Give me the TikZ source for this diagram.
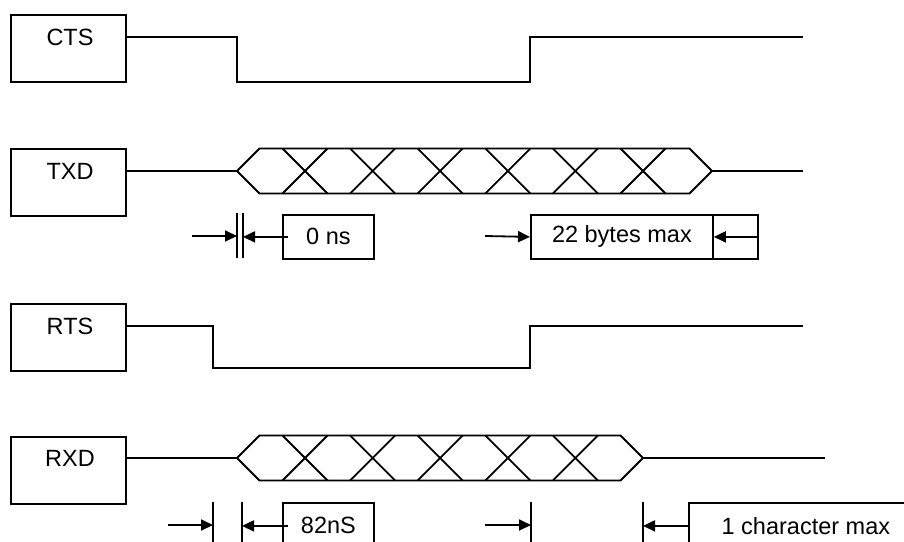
\documentclass[tikz,border=0pt]{standalone}
\usepackage{fontspec}
\setmainfont{Liberation Sans}
\usetikzlibrary{arrows.meta,calc}
\begin{document}
\begin{tikzpicture}[x=1pt,y=-1pt,
  line width=1.8pt,
  sig/.style={line width=1.8pt,line join=miter},
  sigbox/.style={draw,line width=1.8pt,minimum width=115pt,minimum height=67pt,inner sep=0pt,anchor=north west},
  sigtext/.style={font=\fontsize{23.5}{28}\selectfont,inner sep=0pt,anchor=center},
  annbox/.style={draw,line width=1.8pt,minimum height=44pt,inner sep=0pt,anchor=north west,font=\fontsize{23.5}{28}\selectfont},
  arr/.style={-{Triangle[length=12pt,width=11pt]},line width=1.8pt,shorten >=0pt},
  tick/.style={line width=1.8pt}
]
\clip (0,0) rectangle (904,541);
\fill[white] (0,0) rectangle (904,541);

% ---------- CTS ----------
\node[sigbox] (cts) at (10,14) {};
\node[sigtext] (ctsT) at (70,37) {CTS};
\coordinate (ctsEnd) at (803,37);
\draw[sig] ($(cts.north east)+(0,23)$) -- (237,37) -- (237,82) -- (530,82) -- (530,37) -- (ctsEnd);

% ---------- TXD ----------
\node[sigbox] (txd) at (10,148) {};
\node[sigtext] (txdT) at (70,171) {TXD};
\coordinate (txdL) at (237,171);
\coordinate (txdR) at (712,171);
\coordinate (txdEnd) at (803,171);
\draw[sig] ($(txd.north east)+(0,23)$) -- (txdL);
\draw[sig] (txdL) -- (259.5,148.5) -- (689.5,148.5) -- (txdR) -- (689.5,193.5) -- (259.5,193.5) -- cycle;
\foreach \k in {0,...,5}{
  \pgfmathsetmacro{\cx}{305+67.6*\k}
  \draw[sig] (\cx-22.5,148.5) -- (\cx+22.5,193.5);
  \draw[sig] (\cx-22.5,193.5) -- (\cx+22.5,148.5);
}
\draw[sig] (txdR) -- (txdEnd);

% 0 ns annotation
\node[annbox,minimum width=91pt] (zero) at (282,214) {0 ns};
\coordinate (zA) at (237,213);
\coordinate (zB) at (243,213);
\draw[tick] (zA) -- (237,258);
\draw[tick] (zB) -- (243,258);
\coordinate (zS) at (192,236);
\draw[arr] (zS) -- (zS -| zA);
\draw[arr] ($(zero.west)+(6,0)$) -- (zero.west -| zB);

% 22 bytes max annotation
\node[annbox,minimum width=182pt] (bytes) at (530,214) {22 bytes max};
\node[annbox,minimum width=45pt] (bytesEnd) at (712,214) {};
\coordinate (bS) at (485,236);
\draw[arr] (bS) -- (bytes.west);
\draw[arr] (bytesEnd.east) -- (bytes.east);

% ---------- RTS ----------
\node[sigbox] (rts) at (10,303) {};
\node[sigtext] (rtsT) at (70,326) {RTS};
\coordinate (rtsEnd) at (803,326);
\draw[sig] ($(rts.north east)+(0,23)$) -- (213,326) -- (213,368) -- (530,368) -- (530,326) -- (rtsEnd);

% ---------- RXD ----------
\node[sigbox] (rxd) at (10,436) {};
\node[sigtext] (rxdT) at (70,458) {RXD};
\coordinate (rxdL) at (237,458);
\coordinate (rxdR) at (643,458);
\coordinate (rxdEnd) at (825,458);
\draw[sig] ($(rxd.north east)+(0,22)$) -- (rxdL);
\draw[sig] (rxdL) -- (259.5,435.5) -- (620.5,435.5) -- (rxdR) -- (620.5,480.5) -- (259.5,480.5) -- cycle;
\foreach \k in {0,...,4}{
  \pgfmathsetmacro{\cx}{305+67.6*\k}
  \draw[sig] (\cx-22.5,435.5) -- (\cx+22.5,480.5);
  \draw[sig] (\cx-22.5,480.5) -- (\cx+22.5,435.5);
}
\draw[sig] (rxdR) -- (rxdEnd);

% 82nS annotation
\node[annbox,minimum width=91pt,minimum height=46pt] (nS) at (282,502) {82nS};
\coordinate (nA) at (213,502);
\coordinate (nB) at (242,502);
\draw[tick] (nA) -- (213,560);
\draw[tick] (nB) -- (242,560);
\coordinate (nSt) at (168,525);
\draw[arr] (nSt) -- (nSt -| nA);
\draw[arr] ($(nS.west)+(6,0)$) -- (nS.west -| nB);

% 1 character max annotation
\node[annbox,minimum width=234pt,minimum height=46pt] (chr) at (688,502) {1 character max};
\coordinate (cA) at (531,502);
\coordinate (cB) at (643,502);
\draw[tick] (cA) -- (531,560);
\draw[tick] (cB) -- (643,560);
\coordinate (cSt) at (485,525);
\draw[arr] (cSt) -- (cSt -| cA);
\draw[arr] (chr.west) -- (chr.west -| cB);
\end{tikzpicture}
\end{document}
